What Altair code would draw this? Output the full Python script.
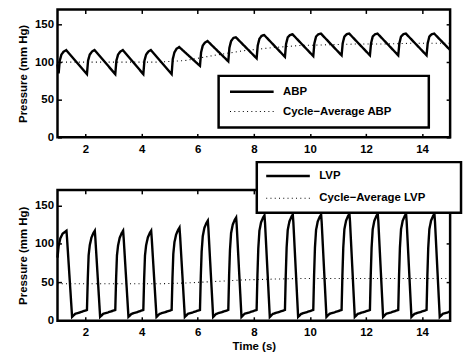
import altair as alt
import pandas as pd

# ---------------- data ----------------
abp_time = [1.00, 1.04, 1.08, 1.14, 1.22, 1.31,
            2.05, 2.09, 2.15, 2.23, 2.32,
            3.06, 3.10, 3.16, 3.24, 3.33,
            4.06, 4.10, 4.16, 4.24, 4.33,
            5.07, 5.11, 5.17, 5.25, 5.34,
            6.08, 6.12, 6.18, 6.26, 6.35,
            7.09, 7.13, 7.19, 7.27, 7.36,
            8.10, 8.14, 8.20, 8.28, 8.37,
            9.11, 9.15, 9.21, 9.29, 9.38,
            10.12, 10.16, 10.22, 10.30, 10.39,
            11.13, 11.17, 11.23, 11.31, 11.40,
            12.14, 12.18, 12.24, 12.32, 12.41,
            13.15, 13.19, 13.25, 13.33, 13.42,
            14.16, 14.20, 14.26, 14.34, 14.43,
            15.00]
abp_pressure = [97, 85, 102, 110, 114, 116,
                84, 102, 110, 114, 116,
                84, 102, 110, 114, 116,
                84, 102, 110, 114, 116,
                84, 104, 113, 118, 120,
                95, 113, 122, 126, 128,
                101, 119, 128, 132, 133,
                105, 122, 131, 135, 136,
                107, 124, 133, 136, 137,
                108, 125, 134, 137, 138,
                109, 125, 134, 137, 138,
                109, 125, 134, 137, 138,
                109, 125, 134, 137, 138,
                109, 125, 134, 137, 138,
                116]

abp_avg_time = [1.0, 1.55, 2.55, 3.55, 4.55, 5.55, 6.6, 7.6, 8.6, 9.6, 10.6, 11.6, 12.6, 13.6, 14.6, 15.0]
abp_avg = [100, 100, 100, 100, 100, 102, 109, 115, 119, 122, 123, 124, 124, 125, 125, 125]

lvp_time = [1.00, 1.04, 1.10, 1.18, 1.32, 1.34, 1.52, 1.63, 1.81,
            2.05, 2.08, 2.11, 2.15, 2.21, 2.28, 2.33, 2.35, 2.52, 2.63, 2.81,
            3.06, 3.09, 3.12, 3.16, 3.22, 3.29, 3.34, 3.36, 3.53, 3.64, 3.82,
            4.06, 4.09, 4.12, 4.16, 4.22, 4.29, 4.34, 4.36, 4.53, 4.64, 4.82,
            5.07, 5.10, 5.13, 5.17, 5.23, 5.30, 5.35, 5.37, 5.54, 5.65, 5.83,
            6.08, 6.11, 6.14, 6.18, 6.24, 6.31, 6.36, 6.38, 6.55, 6.66, 6.84,
            7.09, 7.12, 7.15, 7.19, 7.25, 7.32, 7.37, 7.39, 7.56, 7.67, 7.85,
            8.10, 8.13, 8.16, 8.20, 8.26, 8.33, 8.38, 8.40, 8.57, 8.68, 8.86,
            9.11, 9.14, 9.17, 9.21, 9.27, 9.34, 9.39, 9.41, 9.58, 9.69, 9.87,
            10.12, 10.15, 10.18, 10.22, 10.28, 10.35, 10.40, 10.42, 10.59, 10.70, 10.88,
            11.13, 11.16, 11.19, 11.23, 11.29, 11.36, 11.41, 11.43, 11.60, 11.71, 11.89,
            12.14, 12.17, 12.20, 12.24, 12.30, 12.37, 12.42, 12.44, 12.61, 12.72, 12.90,
            13.15, 13.18, 13.21, 13.25, 13.31, 13.38, 13.43, 13.45, 13.62, 13.73, 13.91,
            14.16, 14.19, 14.22, 14.26, 14.32, 14.39, 14.44, 14.46, 14.63, 14.74, 14.92,
            15.00]
lvp_pressure = [82, 97, 107, 113, 117, 107, 5, 9, 11,
                14, 55, 85, 98, 108, 114, 117, 107, 5, 9, 11,
                14, 55, 85, 98, 108, 114, 117, 107, 5, 9, 11,
                14, 55, 85, 98, 108, 114, 117, 107, 5, 9, 11,
                14, 56, 87, 102, 112, 118, 121, 111, 5, 9, 11,
                14, 58, 90, 110, 121, 127, 130, 120, 5, 9, 11,
                14, 60, 92, 114, 125, 131, 134, 124, 5, 9, 11,
                14, 60, 94, 117, 128, 134, 137, 127, 5, 9, 11,
                14, 60, 95, 118, 129, 135, 138, 128, 5, 9, 11,
                14, 60, 95, 118, 129, 135, 138, 128, 5, 9, 11,
                14, 60, 95, 119, 130, 136, 139, 129, 5, 9, 11,
                14, 60, 95, 119, 130, 136, 139, 129, 5, 9, 11,
                14, 60, 95, 119, 130, 136, 139, 129, 5, 9, 11,
                14, 60, 95, 119, 130, 136, 139, 129, 5, 9, 11,
                12]

lvp_avg_time = [1.0, 1.55, 2.55, 3.55, 4.55, 5.55, 6.6, 7.6, 8.6, 9.6, 10.6, 11.6, 12.6, 13.6, 14.6, 15.0]
lvp_avg = [48, 48, 48, 48, 48, 49, 51, 53, 54, 55, 55, 55, 55, 55, 55, 55]

x_ticks = [2, 4, 6, 8, 10, 12, 14]
y_ticks = [0, 50, 100, 150]
x_domain = [1, 15]
y_domain = [0, 170]

# ---------------- styling ----------------
FONT = "Liberation Sans"
FS = 11.5
W = 396


def panel(wave_t, wave_p, avg_t, avg_p, name, avg_name, H, x_title, lx, ly, row_pad, pad, extra):
    wave = pd.DataFrame({"t": wave_t, "p": wave_p, "series": name})
    avg = pd.DataFrame({"t": avg_t, "p": avg_p, "series": avg_name})
    xs = alt.Scale(domain=x_domain, nice=False, zero=False)
    ys = alt.Scale(domain=y_domain, nice=False)
    dash = alt.Scale(domain=[name, avg_name], range=[[1, 0], [1, 3.3]])
    widths = alt.Scale(domain=[name, avg_name], range=[2.4, 1.1])
    legend = alt.Legend(
        orient="none", legendX=lx, legendY=ly,
        title=".", titleOrient="right", titleColor="white", titlePadding=extra,
        titleFontSize=4,
        symbolType="stroke", symbolSize=44 * 44, symbolStrokeColor="black",
        labelFont=FONT, labelFontSize=FS, labelFontWeight="bold", labelColor="black",
        labelOffset=8, rowPadding=row_pad, padding=pad, clipHeight=12,
        fillColor="white", strokeColor="black", labelLimit=400,
    )
    main_x = alt.Axis(orient="bottom", values=x_ticks, ticks=False, domain=False, grid=False,
                      labelPadding=6, titlePadding=2)
    main_y = alt.Axis(orient="left", values=y_ticks, ticks=False, domain=False, grid=False,
                      labelPadding=4, titlePadding=6)
    tick_common = dict(labels=False, domain=False, grid=False, ticks=True, tickSize=4,
                       tickWidth=1.5, tickColor="black")

    l1 = alt.Chart(wave).mark_line(color="black").encode(
        x=alt.X("t:Q", scale=xs, axis=main_x, title=x_title),
        y=alt.Y("p:Q", scale=ys, axis=main_y, title="Pressure (mm Hg)"),
        strokeDash=alt.StrokeDash("series:N", scale=dash, legend=legend),
        strokeWidth=alt.StrokeWidth("series:N", scale=widths, legend=legend),
    )
    l2 = alt.Chart(avg).mark_line(color="black").encode(
        x=alt.X("t:Q", scale=xs, title=None,
                axis=alt.Axis(orient="top", offset=-H, values=x_ticks, **tick_common)),
        y=alt.Y("p:Q", scale=ys, title=None,
                axis=alt.Axis(orient="right", offset=-W, values=y_ticks, **tick_common)),
        strokeDash=alt.StrokeDash("series:N", scale=dash, legend=legend),
        strokeWidth=alt.StrokeWidth("series:N", scale=widths, legend=legend),
    )
    l3 = alt.Chart(avg).mark_line(color="black", opacity=0).encode(
        x=alt.X("t:Q", scale=xs, title=None,
                axis=alt.Axis(orient="bottom", offset=-H, values=x_ticks, **tick_common)),
        y=alt.Y("p:Q", scale=ys, title=None,
                axis=alt.Axis(orient="left", offset=-W, values=y_ticks, **tick_common)),
    )
    return alt.layer(l1, l2, l3).resolve_axis(x="independent", y="independent").properties(
        width=W, height=H)


top = panel(abp_time, abp_pressure, abp_avg_time, abp_avg,
            "ABP", "Cycle\u2212Average ABP", 129, None, 162.5, 67, 8, 10, 25)
bottom = panel(lvp_time, lvp_pressure, lvp_avg_time, lvp_avg,
               "LVP", "Cycle\u2212Average LVP", 132, "Time (s)", 201, -28, 10.5, 8, 26)

chart = alt.vconcat(top, bottom, spacing=53, bounds="flush").resolve_scale(
    x="independent", y="independent", strokeDash="independent", strokeWidth="independent"
).resolve_legend(strokeDash="independent", strokeWidth="independent").properties(
    padding={"left": 16, "top": 6, "right": 0, "bottom": 0},
    background="white",
).configure_view(
    stroke="black", strokeWidth=2.5
).configure_axis(
    labelFont=FONT, labelFontSize=FS, labelFontWeight="bold", labelColor="black",
    titleFont=FONT, titleFontSize=FS, titleFontWeight="bold", titleColor="black",
).configure_legend(
    strokeWidth=2.5
)

chart.save("out.html", embed_options={"renderer": "svg", "actions": False})
